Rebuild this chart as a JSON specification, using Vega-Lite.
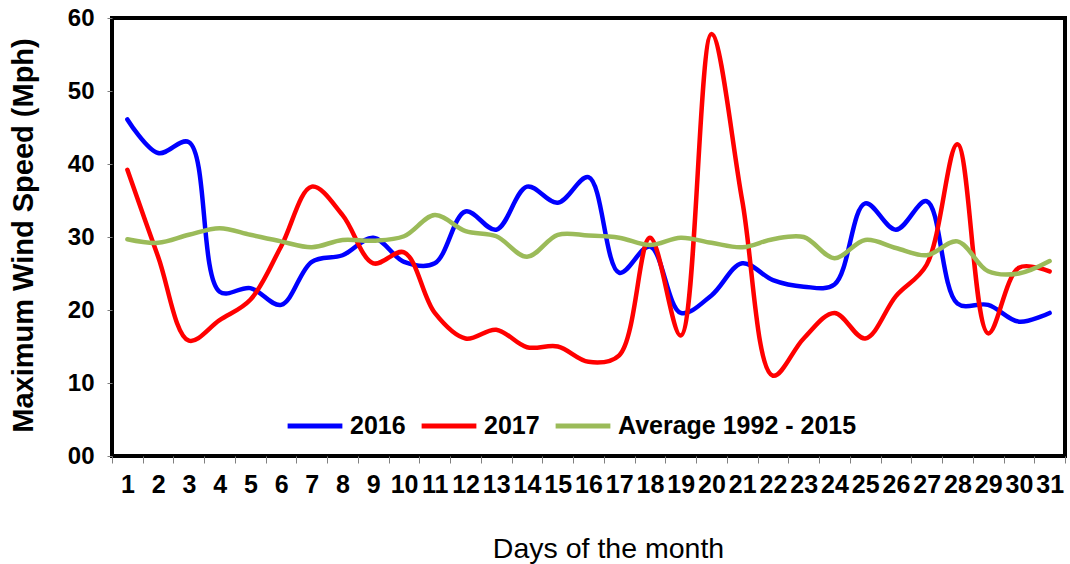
{
  "$schema": "https://vega.github.io/schema/vega-lite/v6.json",
  "width": 953,
  "height": 438,
  "autosize": {"type": "none"},
  "padding": {"left": 112, "top": 18, "right": 5, "bottom": 108},
  "background": "white",
  "config": {
    "font": "Liberation Sans",
    "view": {"stroke": "black", "strokeWidth": 4}
  },
  "data": {
    "values": [
      {"day": 1, "2016": 46.1, "2017": 39.2, "Average 1992 - 2015": 29.7},
      {"day": 2, "2016": 41.5, "2017": 27.3, "Average 1992 - 2015": 29.2},
      {"day": 3, "2016": 43.0, "2017": 15.8, "Average 1992 - 2015": 30.3},
      {"day": 4, "2016": 22.5, "2017": 18.6, "Average 1992 - 2015": 31.2},
      {"day": 5, "2016": 23.0, "2017": 21.4, "Average 1992 - 2015": 30.3},
      {"day": 6, "2016": 20.7, "2017": 28.7, "Average 1992 - 2015": 29.4},
      {"day": 7, "2016": 26.6, "2017": 36.9, "Average 1992 - 2015": 28.6},
      {"day": 8, "2016": 27.5, "2017": 33.0, "Average 1992 - 2015": 29.6},
      {"day": 9, "2016": 29.9, "2017": 26.4, "Average 1992 - 2015": 29.5},
      {"day": 10, "2016": 26.6, "2017": 27.9, "Average 1992 - 2015": 30.1},
      {"day": 11, "2016": 26.4, "2017": 19.6, "Average 1992 - 2015": 33.0},
      {"day": 12, "2016": 33.5, "2017": 16.1, "Average 1992 - 2015": 30.8},
      {"day": 13, "2016": 31.0, "2017": 17.3, "Average 1992 - 2015": 30.1},
      {"day": 14, "2016": 36.9, "2017": 14.9, "Average 1992 - 2015": 27.3},
      {"day": 15, "2016": 34.7, "2017": 15.0, "Average 1992 - 2015": 30.3},
      {"day": 16, "2016": 38.2, "2017": 12.9, "Average 1992 - 2015": 30.2},
      {"day": 17, "2016": 25.1, "2017": 13.8, "Average 1992 - 2015": 29.9},
      {"day": 18, "2016": 28.7, "2017": 29.9, "Average 1992 - 2015": 28.9},
      {"day": 19, "2016": 19.6, "2017": 16.5, "Average 1992 - 2015": 29.9},
      {"day": 20, "2016": 22.0, "2017": 57.8, "Average 1992 - 2015": 29.2},
      {"day": 21, "2016": 26.4, "2017": 35.0, "Average 1992 - 2015": 28.6},
      {"day": 22, "2016": 24.1, "2017": 11.0, "Average 1992 - 2015": 29.7},
      {"day": 23, "2016": 23.2, "2017": 16.1, "Average 1992 - 2015": 30.0},
      {"day": 24, "2016": 23.5, "2017": 19.6, "Average 1992 - 2015": 27.1},
      {"day": 25, "2016": 34.6, "2017": 16.1, "Average 1992 - 2015": 29.6},
      {"day": 26, "2016": 31.0, "2017": 21.9, "Average 1992 - 2015": 28.5},
      {"day": 27, "2016": 34.9, "2017": 26.2, "Average 1992 - 2015": 27.5},
      {"day": 28, "2016": 20.9, "2017": 42.7, "Average 1992 - 2015": 29.4},
      {"day": 29, "2016": 20.7, "2017": 16.8, "Average 1992 - 2015": 25.3},
      {"day": 30, "2016": 18.4, "2017": 25.8, "Average 1992 - 2015": 25.0},
      {"day": 31, "2016": 19.6, "2017": 25.3, "Average 1992 - 2015": 26.7}
    ]
  },
  "transform": [
    {"fold": ["2016", "2017", "Average 1992 - 2015"], "as": ["series", "speed"]}
  ],
  "mark": {"type": "line", "interpolate": "catmull-rom", "strokeWidth": 4.5, "strokeCap": "round", "strokeJoin": "round"},
  "encoding": {
    "x": {
      "field": "day",
      "type": "ordinal",
      "scale": {"paddingInner": 0, "paddingOuter": 0},
      "axis": {
        "title": "Days of the month",
        "titleFont": "Liberation Sans",
        "titleFontSize": 28.5,
        "titleFontWeight": "normal",
        "titleColor": "black",
        "titleX": 496,
        "titleY": 101,
        "titleBaseline": "alphabetic",
        "labelAngle": 0,
        "labelFontSize": 25,
        "labelFontWeight": "bold",
        "labelColor": "black",
        "labelOverlap": false,
        "labelBound": false,
        "labelPadding": 9,
        "tickBand": "extent",
        "tickSize": 7,
        "tickColor": "#808080",
        "domain": false
      }
    },
    "y": {
      "field": "speed",
      "type": "quantitative",
      "scale": {"domain": [0, 60], "nice": false},
      "axis": {
        "title": "Maximum Wind Speed (Mph)",
        "titleFontSize": 29,
        "titleFontWeight": "bold",
        "titleColor": "black",
        "titleX": -74,
        "titleY": 217,
        "titleAngle": 270,
        "titleAlign": "center",
        "values": [0, 10, 20, 30, 40, 50, 60],
        "labelExpr": "datum.value == 0 ? '00' : datum.label",
        "labelFontSize": 24,
        "labelFontWeight": "bold",
        "labelColor": "black",
        "labelPadding": 13,
        "tickSize": 5,
        "tickColor": "#808080",
        "grid": false,
        "domain": false
      }
    },
    "color": {
      "field": "series",
      "type": "nominal",
      "scale": {"domain": ["2016", "2017", "Average 1992 - 2015"], "range": ["#0000FF", "#FF0000", "#9BBB59"]},
      "legend": {
        "title": null,
        "orient": "none",
        "direction": "horizontal",
        "legendX": 173,
        "legendY": 378,
        "symbolType": "stroke",
        "symbolSize": 3000,
        "symbolStrokeWidth": 5,
        "labelFontSize": 25,
        "labelFontWeight": "bold",
        "labelColor": "black",
        "labelOffset": 5,
        "labelLimit": 400,
        "columnPadding": 5
      }
    }
  }
}
